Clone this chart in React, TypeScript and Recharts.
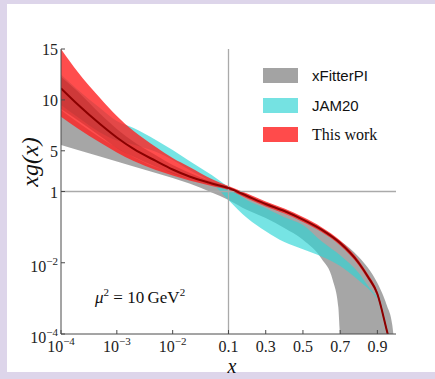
import { ComposedChart, Area, Line, XAxis, YAxis, ReferenceLine } from "recharts"

// ---- values ----
// This work (red): central line, outer and inner uncertainty bands
const redX = [1e-4, 2e-4, 5e-4, 1e-3, 2e-3, 5e-3, 0.01, 0.02, 0.05, 0.1, 0.2, 0.3, 0.4, 0.5, 0.6, 0.7, 0.8, 0.85, 0.9, 0.95, 0.97]
const redCentral = [11.14, 9.55, 7.63, 6.31, 5.18, 4.0, 3.16, 2.47, 1.79, 1.34, 0.748, 0.446, 0.284, 0.163, 0.0852, 0.0358, 0.00984, 0.00398, 0.00133, 0.00013, 0.00005]
const redOuterHi = [15.0, 12.74, 10.19, 8.42, 6.94, 5.37, 4.29, 3.41, 2.23, 1.54, 0.88, 0.524, 0.334, 0.192, 0.1, 0.042, 0.0116, 0.0047, 0.00156, 0.000153, 0.00006]
const redOuterLo = [8.35, 7.19, 5.81, 4.83, 4.0, 3.11, 2.57, 2.08, 1.54, 1.15, 0.64, 0.38, 0.242, 0.139, 0.0725, 0.0305, 0.0084, 0.0034, 0.00113, 0.000111, 0.00004]
const redInnerHi = [12.28, 10.82, 8.65, 7.15, 5.88, 4.55, 3.61, 2.85, 1.96, 1.42, 0.81, 0.483, 0.308, 0.177, 0.0924, 0.0388, 0.0107, 0.0043, 0.00144, 0.000141, 0.000054]
const redInnerLo = [9.11, 8.01, 6.45, 5.27, 4.41, 3.42, 2.78, 2.22, 1.63, 1.22, 0.69, 0.411, 0.262, 0.15, 0.0786, 0.033, 0.0091, 0.0037, 0.00123, 0.00012, 0.000046]

// xFitterPI (gray)
const grayX = [1e-4, 2e-4, 5e-4, 1e-3, 2e-3, 5e-3, 0.01, 0.02, 0.05, 0.1, 0.2, 0.3, 0.4, 0.5, 0.6, 0.66, 0.69, 0.7, 0.8, 0.85, 0.9, 0.95, 0.98, 0.99]
const grayHi = [9.0, 7.8, 6.3, 5.3, 4.4, 3.4, 2.85, 2.25, 1.7, 1.47, 0.7, 0.418, 0.249, 0.149, 0.083, 0.0546, 0.044, 0.041, 0.0145, 0.0071, 0.0027, 0.00065, 0.00018, 0.00006]
const grayLo = [5.57, 5.08, 4.44, 3.95, 3.46, 2.82, 2.33, 1.79, 0.94, 0.58, 0.303, 0.18, 0.094, 0.044, 0.013, 0.0033, 0.00057, 0.0001, 0.00001, 0.00001, 0.00001, 0.00001, 0.00001, 0.00001]

// JAM20 (cyan)
const cyanX = [1e-4, 2e-4, 5e-4, 1e-3, 2e-3, 5e-3, 0.01, 0.02, 0.05, 0.1, 0.2, 0.3, 0.4, 0.5, 0.6, 0.7, 0.8, 0.85, 0.9]
const cyanHi = [12.5, 11.0, 9.2, 7.93, 7.24, 6.06, 5.08, 4.0, 2.62, 1.45, 0.57, 0.34, 0.19, 0.115, 0.04, 0.0162, 0.00515, 0.00222, 0.0011]
const cyanLo = [9.5, 8.3, 6.8, 6.0, 5.6, 4.9, 4.1, 3.11, 1.84, 0.58, 0.18, 0.077, 0.038, 0.024, 0.015, 0.0081, 0.0032, 0.0019, 0.001]

// tick labels
const xTicks = [1e-4, 1e-3, 1e-2, 0.1, 0.3, 0.5, 0.7, 0.9]
const xTickBase = ["10", "10", "10", "0.1", "0.3", "0.5", "0.7", "0.9"]
const xTickExp = ["−4", "−3", "−2", "", "", "", "", ""]
const yTicks = [1e-4, 1e-2, 1, 5, 10, 15]
const yTickBase = ["10", "10", "1", "5", "10", "15"]
const yTickExp = ["−4", "−2", "", "", "", ""]

const legendNames = ["xFitterPI", "JAM20", "This work"]
const legendColors = ["#a3a3a3", "#75e2e2", "#ff4b4b"]

// ---- helpers ----
const FRAME = "#4a4a4a"
const SERIF = '"Liberation Serif", "DejaVu Serif", serif'

// split axes: log up to 0.1 (x) / 1 (y), linear above
const tx = (x: number) => (x <= 0.1 ? (Math.log10(x) + 4) / 3 : 1 + (x - 0.1) / 0.9)
const ty = (y: number) => (y <= 1 ? (Math.log10(y) + 4) / 4 : 1 + (y - 1) / 14)

const band = (xs: number[], lo: number[], hi: number[]) =>
  xs.map((x, i) => ({ u: tx(x), band: [ty(lo[i]), ty(hi[i])] }))
const curve = (xs: number[], ys: number[]) => xs.map((x, i) => ({ u: tx(x), v: ty(ys[i]) }))

const grayData = band(grayX, grayLo, grayHi)
const cyanData = band(cyanX, cyanLo, cyanHi)
const redOuterData = band(redX, redOuterLo, redOuterHi)
const redInnerData = band(redX, redInnerLo, redInnerHi)
const redLineData = curve(redX, redCentral)

const BottomTick = (p: any) => {
  const exp = xTickExp[p.index]
  return (
    <g>
      <line x1={p.x} x2={p.x} y1={p.y} y2={p.y - 4} stroke={FRAME} />
      <text x={p.x} y={p.y + 18} textAnchor="middle" fontFamily={SERIF} fontSize={16} fill="#222">
        {xTickBase[p.index]}
        {exp && (
          <tspan dy={-7} fontSize={11}>
            {exp}
          </tspan>
        )}
      </text>
    </g>
  )
}

const TopTick = (p: any) => <line x1={p.x} x2={p.x} y1={p.y} y2={p.y + 4} stroke={FRAME} />

const LeftTick = (p: any) => {
  const exp = yTickExp[p.index]
  return (
    <g>
      <line x1={p.x} x2={p.x + 4} y1={p.y} y2={p.y} stroke={FRAME} />
      <text x={p.x - 3} y={p.y + (exp ? 9 : 6)} textAnchor="end" fontFamily={SERIF} fontSize={16} fill="#222">
        {yTickBase[p.index]}
        {exp && (
          <tspan dy={-7} fontSize={11}>
            {exp}
          </tspan>
        )}
      </text>
    </g>
  )
}

const RightTick = (p: any) => <line x1={p.x} x2={p.x - 4} y1={p.y} y2={p.y} stroke={FRAME} />

export default function App() {
  return (
    <div style={{ position: "absolute", left: 0, top: 0, width: 435, height: 379, background: "#ddd5ea" }}>
      <div style={{ position: "absolute", left: 7, top: 4, right: 0, bottom: 7, background: "#fff" }} />
      <div style={{ position: "absolute", left: 0, top: 0 }}>
        <ComposedChart width={435} height={379} margin={{ top: 49, right: 39, bottom: 15, left: 11 }}>
          <XAxis
            xAxisId="b"
            type="number"
            dataKey="u"
            domain={[0, 2]}
            ticks={xTicks.map(tx)}
            allowDataOverflow
            height={30}
            tickSize={0}
            tickMargin={0}
            tickLine={false}
            axisLine={{ stroke: FRAME }}
            tick={BottomTick}
            interval={0}
          />
          <XAxis
            xAxisId="t"
            orientation="top"
            type="number"
            dataKey="u"
            domain={[0, 2]}
            ticks={xTicks.map(tx)}
            allowDataOverflow
            height={0}
            tickSize={0}
            tickMargin={0}
            tickLine={false}
            axisLine={{ stroke: FRAME }}
            tick={TopTick}
            interval={0}
          />
          <YAxis
            yAxisId="l"
            type="number"
            domain={[0, 2]}
            ticks={yTicks.map(ty)}
            allowDataOverflow
            width={50}
            tickSize={0}
            tickMargin={0}
            tickLine={false}
            axisLine={{ stroke: FRAME }}
            tick={LeftTick}
            interval={0}
          />
          <YAxis
            yAxisId="r"
            orientation="right"
            type="number"
            domain={[0, 2]}
            ticks={yTicks.map(ty)}
            allowDataOverflow
            width={0}
            tickSize={0}
            tickMargin={0}
            tickLine={false}
            axisLine={{ stroke: FRAME }}
            tick={RightTick}
            interval={0}
          />
          <ReferenceLine xAxisId="b" yAxisId="l" x={tx(0.1)} stroke="#aaaaaa" strokeWidth={1.3} />
          <ReferenceLine xAxisId="b" yAxisId="l" y={ty(1)} stroke="#aaaaaa" strokeWidth={1.3} />
          <Area xAxisId="b" yAxisId="l" data={grayData} dataKey="band" type="monotone" stroke="none" fill="#808080" fillOpacity={0.7} isAnimationActive={false} />
          <Area xAxisId="b" yAxisId="l" data={cyanData} dataKey="band" type="monotone" stroke="none" fill="#2cd5d5" fillOpacity={0.65} isAnimationActive={false} />
          <Area xAxisId="b" yAxisId="l" data={redOuterData} dataKey="band" type="monotone" stroke="none" fill="#ff2020" fillOpacity={0.8} isAnimationActive={false} />
          <Area xAxisId="b" yAxisId="l" data={redInnerData} dataKey="band" type="monotone" stroke="none" fill="#a01818" fillOpacity={0.3} isAnimationActive={false} />
          <Line xAxisId="b" yAxisId="l" data={redLineData} dataKey="v" type="monotone" stroke="#8b0000" strokeWidth={2} dot={false} isAnimationActive={false} />
        </ComposedChart>
      </div>

      {/* legend */}
      {legendNames.map((name, i) => (
        <div key={name}>
          <div
            style={{
              position: "absolute",
              left: 263,
              top: 68 + i * 29.5,
              width: 35,
              height: 15,
              background: legendColors[i],
            }}
          />
          <div
            style={{
              position: "absolute",
              left: 312,
              top: 66 + i * 29.5,
              lineHeight: "20px",
              fontSize: i === 2 ? 16 : 15,
              fontFamily: i === 2 ? SERIF : '"Liberation Sans", "DejaVu Sans", sans-serif',
              color: "#111",
              whiteSpace: "nowrap",
            }}
          >
            {name}
          </div>
        </div>
      ))}

      {/* annotation */}
      <div style={{ position: "absolute", left: 95, top: 282, fontFamily: SERIF, fontSize: 17, color: "#111", whiteSpace: "nowrap", lineHeight: "20px" }}>
        <i>μ</i>
        <sup style={{ fontSize: 11 }}>2</sup> = 10&thinsp;GeV<sup style={{ fontSize: 11 }}>2</sup>
      </div>

      {/* axis titles */}
      <div
        style={{
          position: "absolute",
          left: 30,
          top: 162,
          transform: "translate(-50%, -50%) rotate(-90deg)",
          fontFamily: SERIF,
          fontStyle: "italic",
          fontSize: 24,
          color: "#111",
          whiteSpace: "nowrap",
        }}
      >
        xg(x)
      </div>
      <div
        style={{
          position: "absolute",
          left: 232,
          top: 366,
          transform: "translate(-50%, -50%)",
          fontFamily: SERIF,
          fontStyle: "italic",
          fontSize: 20,
          lineHeight: "20px",
          color: "#111",
        }}
      >
        x
      </div>
    </div>
  )
}
